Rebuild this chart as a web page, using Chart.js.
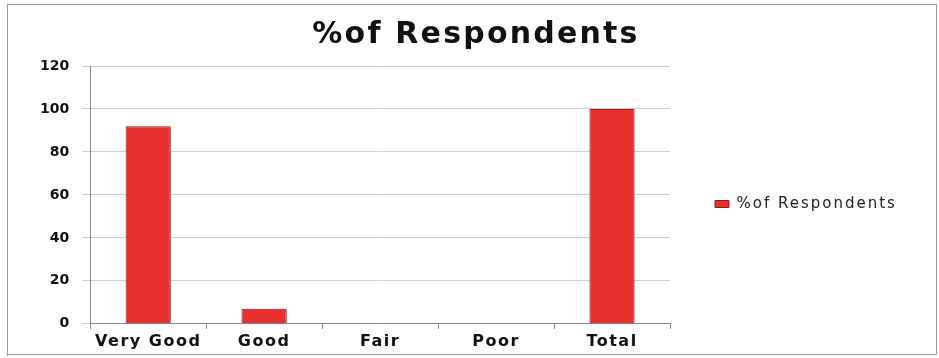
<!DOCTYPE html>
<html>
<head>
<meta charset="utf-8">
<script src="https://cdn.jsdelivr.net/npm/chart.js@4.4.1/dist/chart.umd.min.js"></script>
<style>
  html, body { margin: 0; padding: 0; background: #fff; }
  #wrap { position: relative; width: 939px; height: 358px; }
</style>
</head>
<body>
<div id="wrap"><canvas id="c" width="939" height="358"></canvas></div>
<script>
const categories = ["Very Good", "Good", "Fair", "Poor", "Total"];
const respondents = [92, 7, 0, 0, 100];
const seriesName = "%of Respondents";
const chartTitle = "%of Respondents";

function withSpacing(obj, method, spacing) {
  const orig = obj[method];
  obj[method] = function (...args) {
    const ctx = this.ctx || (this.chart && this.chart.ctx);
    ctx.letterSpacing = spacing;
    const r = orig.apply(this, args);
    ctx.letterSpacing = '0px';
    return r;
  };
}

const framePlugin = {
  id: 'frame',
  beforeDraw(chart) {
    const ctx = chart.ctx;
    ctx.save();
    ctx.fillStyle = '#fff';
    ctx.fillRect(0, 0, chart.width, chart.height);
    ctx.strokeStyle = '#9a9a9a';
    ctx.lineWidth = 1;
    ctx.beginPath();
    ctx.moveTo(7.5, 4.5); ctx.lineTo(936.5, 4.5);
    ctx.moveTo(7.5, 4.5); ctx.lineTo(7.5, 356);
    ctx.moveTo(936.5, 4.5); ctx.lineTo(936.5, 354.5);
    ctx.moveTo(7.5, 354.5); ctx.lineTo(936.5, 354.5);
    ctx.stroke();
    ctx.restore();
  }
};

const tweakPlugin = {
  id: 'tweak',
  beforeInit(chart) {
    const lg = chart.legend;
    if (lg) {
      const orig = lg.fit;
      lg.fit = function () {
        orig.call(this);
        this.width = 255;
      };
      withSpacing(lg, 'draw', '2px');
    }
    if (chart.titleBlock) {
      withSpacing(chart.titleBlock, 'draw', '2.2px');
    }
  },
  afterLayout(chart) {
    if (chart.legend) {
      chart.legend.top += 23;
      chart.legend.bottom += 23;
    }
    const xs = chart.scales.x;
    if (xs && !xs._spaced) {
      xs._spaced = true;
      withSpacing(xs, 'drawLabels', '1.5px');
    }
  }
};

new Chart(document.getElementById('c'), {
  type: 'bar',
  data: {
    labels: categories,
    datasets: [{
      label: seriesName,
      data: respondents,
      backgroundColor: '#e8302e',
      borderColor: '#8e1a1a',
      borderWidth: 1,
      barPercentage: 0.78,
      categoryPercentage: 0.5
    }]
  },
  options: {
    responsive: false,
    animation: false,
    layout: { padding: { left: 27, right: 14, top: 8, bottom: 4 } },
    plugins: {
      title: {
        display: true,
        text: chartTitle,
        color: '#111',
        font: { family: 'DejaVu Sans', size: 30, weight: 'bold' },
        padding: { top: 9, bottom: 13 }
      },
      legend: {
        display: true,
        position: 'right',
        labels: {
          color: '#222',
          font: { family: 'DejaVu Sans', size: 15 },
          boxWidth: 14,
          boxHeight: 7,
          padding: 45
        }
      },
      tooltip: { enabled: false }
    },
    scales: {
      x: {
        grid: {
          display: true,
          drawOnChartArea: false,
          drawTicks: true,
          tickLength: 5,
          color: '#888',
          offset: true
        },
        border: { display: true, color: '#888', width: 1 },
        ticks: {
          color: '#111',
          font: { family: 'DejaVu Sans', size: 16, weight: 'bold' },
          padding: 3,
          maxRotation: 0
        }
      },
      y: {
        min: 0,
        max: 120,
        ticks: {
          stepSize: 20,
          color: '#111',
          font: { family: 'DejaVu Sans', size: 14, weight: 'bold' },
          padding: 13
        },
        grid: {
          color: '#cfcfcf',
          tickLength: 8,
          drawTicks: true
        },
        border: { display: true, color: '#888', width: 1 }
      }
    }
  },
  plugins: [framePlugin, tweakPlugin]
});
</script>
</body>
</html>
